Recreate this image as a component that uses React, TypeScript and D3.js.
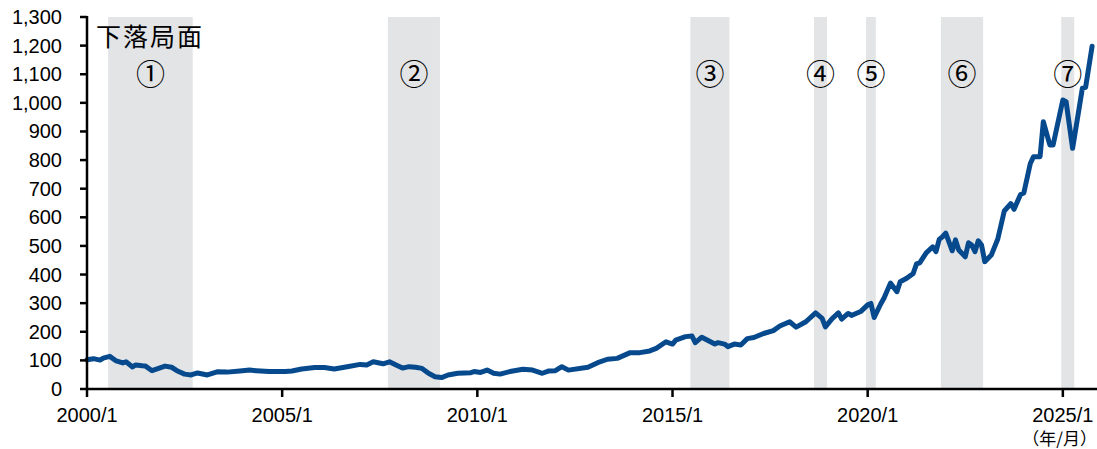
import React, { useEffect } from 'react';
import * as d3 from 'd3';

// month labels (YYYY/M) and index values
const dates = [
  '2000/1', '2000/3', '2000/5', '2000/6', '2000/8', '2000/10', '2000/12',
  '2001/1', '2001/3', '2001/4', '2001/6', '2001/7', '2001/9', '2001/11',
  '2002/1', '2002/3', '2002/5', '2002/7', '2002/9', '2002/11',
  '2003/2', '2003/5', '2003/8', '2003/12', '2004/3', '2004/5', '2004/9',
  '2005/2', '2005/4', '2005/7', '2005/11', '2006/2', '2006/5', '2006/9',
  '2007/1', '2007/3', '2007/5', '2007/8', '2007/10', '2007/12',
  '2008/2', '2008/4', '2008/6', '2008/8', '2008/10', '2008/12',
  '2009/2', '2009/4', '2009/7', '2009/11', '2009/12',
  '2010/2', '2010/4', '2010/6', '2010/8', '2010/11',
  '2011/3', '2011/6', '2011/9', '2011/11', '2012/1', '2012/3', '2012/5', '2012/11',
  '2013/2', '2013/5', '2013/8', '2013/12', '2014/3', '2014/6', '2014/8', '2014/11',
  '2015/1', '2015/2', '2015/5', '2015/7', '2015/8', '2015/10',
  '2016/2', '2016/3', '2016/5', '2016/6', '2016/8', '2016/10', '2016/12',
  '2017/2', '2017/5', '2017/8', '2017/10', '2018/1', '2018/3', '2018/6',
  '2018/9', '2018/11', '2018/12', '2019/2', '2019/4', '2019/5', '2019/7', '2019/8', '2019/11',
  '2020/1', '2020/2', '2020/3', '2020/5', '2020/6', '2020/8', '2020/10', '2020/11',
  '2021/1', '2021/3', '2021/4', '2021/5', '2021/7', '2021/9', '2021/10', '2021/11', '2021/12',
  '2022/1', '2022/3', '2022/4', '2022/5', '2022/7', '2022/8', '2022/9', '2022/10', '2022/11', '2022/12',
  '2023/1', '2023/3', '2023/5', '2023/7', '2023/9', '2023/10', '2023/12',
  '2024/1', '2024/3', '2024/4', '2024/6', '2024/7', '2024/9', '2024/10',
  '2025/1', '2025/2', '2025/4', '2025/7', '2025/8', '2025/10',
];

const values = [
  102, 106, 101, 108, 114, 98, 91,
  95, 77, 84, 81, 80, 64, 72,
  80, 76, 62, 52, 49, 56,
  49, 60, 59, 63, 66, 64, 61,
  61, 63, 70, 75, 75, 70, 78,
  86, 84, 95, 88, 95, 84,
  73, 78, 76, 72, 55, 43,
  40, 49, 55, 57, 61,
  58, 66, 55, 52, 61,
  69, 66, 55, 63, 64, 78, 66, 76,
  92, 104, 107, 127, 127, 133, 142, 165,
  157, 171, 183, 185, 162, 181,
  157, 162, 157, 148, 157, 154, 176,
  180, 194, 204, 220, 235, 216, 235,
  266, 247, 217, 245, 266, 244, 264, 257, 272,
  294, 299, 250, 297, 317, 370, 340, 375,
  387, 404, 437, 441, 476, 497, 480, 523, 532,
  545, 483, 521, 486, 462, 511, 503, 480, 518, 503,
  445, 468, 524, 622, 648, 628, 680,
  685, 788, 812, 812, 934, 853, 853,
  1010, 1004, 841, 1051, 1054, 1198,
];

// decline phases (first and last month, inclusive)
const phaseLabels = ['①', '②', '③', '④', '⑤', '⑥', '⑦'];
const phaseStart = ['2000/8', '2007/10', '2015/7', '2018/9', '2020/1', '2021/12', '2025/1'];
const phaseEnd = ['2002/9', '2009/1', '2016/6', '2018/12', '2020/3', '2022/12', '2025/4'];

const yTicks = d3.range(0, 1301, 100);
const xTickLabels = ['2000/1', '2005/1', '2010/1', '2015/1', '2020/1', '2025/1'];

const W = 1097;
const H = 449;
const m = { top: 17, right: 0, bottom: 60, left: 87 };

const monthIndex = (s: string) => {
  const [y, mo] = s.split('/').map(Number);
  return (y - 2000) * 12 + (mo - 1);
};

const numFont = '"Liberation Sans", Arial, sans-serif';
const jpFont = '"Noto Sans CJK JP", "Noto Sans", sans-serif';

export default function App() {
  useEffect(() => {
    document.body.style.margin = '0';
  }, []);

  const x = d3.scaleLinear().domain([0, 310.5]).range([m.left, W - m.right]);
  const y = d3.scaleLinear().domain([0, 1300]).range([H - m.bottom, m.top]);
  const half = (x(1) - x(0)) / 2;

  const pts = dates.map((d, i) => [monthIndex(d), values[i]] as [number, number]);
  const line = d3.line<[number, number]>()
    .x(d => x(d[0]))
    .y(d => y(d[1]));

  const y0 = y(0);

  return (
    <svg width={W} height={H} style={{ display: 'block', background: '#fff' }}>
      {phaseStart.map((s, i) => {
        const x0 = x(monthIndex(s)) - half;
        const x1 = x(monthIndex(phaseEnd[i])) + half;
        return (
          <g key={i}>
            <rect x={x0} y={y(1300)} width={x1 - x0} height={y0 - y(1300)} fill="#e3e4e6" />
            <text
              x={(x0 + x1) / 2}
              y={72}
              textAnchor="middle"
              dominantBaseline="central"
              fontFamily={jpFont}
              fontSize={29}
              fill="#000"
            >
              {phaseLabels[i]}
            </text>
          </g>
        );
      })}
      <text x={96} y={46} fontFamily={jpFont} fontSize={25} letterSpacing={2} fill="#000">
        下落局面
      </text>

      <path
        d={line(pts) || ''}
        fill="none"
        stroke="#07498d"
        strokeWidth={5}
        strokeLinejoin="round"
        strokeLinecap="round"
      />

      {/* y axis */}
      <line x1={m.left} x2={m.left} y1={y(1300) - 1} y2={y0} stroke="#000" strokeWidth={2.5} />
      {yTicks.map(t => (
        <g key={t}>
          <line x1={m.left - 7} x2={m.left} y1={y(t)} y2={y(t)} stroke="#000" strokeWidth={2.5} />
          <text
            x={62}
            y={y(t)}
            textAnchor="end"
            dominantBaseline="central"
            fontFamily={numFont}
            fontSize={20}
            fill="#000"
          >
            {d3.format(',')(t)}
          </text>
        </g>
      ))}

      {/* x axis */}
      <line x1={m.left - 1} x2={W} y1={y0} y2={y0} stroke="#000" strokeWidth={2.5} />
      {xTickLabels.map(t => {
        const xi = x(monthIndex(t));
        return (
          <g key={t}>
            <line x1={xi} x2={xi} y1={y0} y2={y0 + 8} stroke="#000" strokeWidth={2.5} />
            <text x={xi} y={422} textAnchor="middle" fontFamily={numFont} fontSize={20} fill="#000">
              {t}
            </text>
          </g>
        );
      })}
      <text x={W} y={445} textAnchor="end" fontFamily={jpFont} fontSize={17} fill="#000">
        （年/月）
      </text>
    </svg>
  );
}
